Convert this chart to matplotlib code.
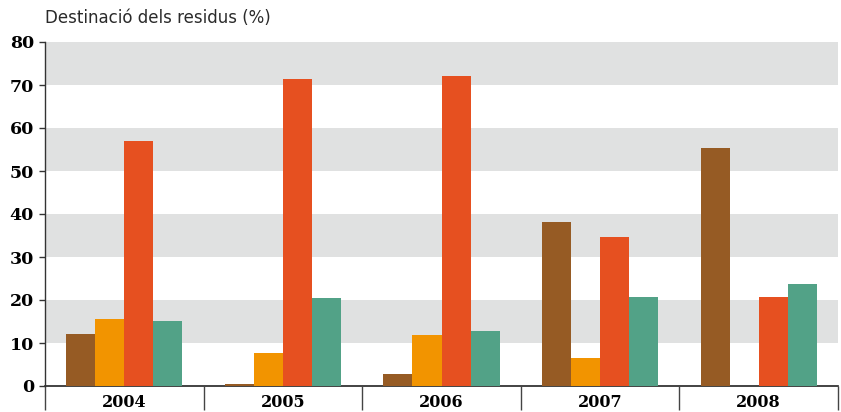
import numpy as np
import matplotlib.pyplot as plt

years = ["2004", "2005", "2006", "2007", "2008"]
serie_marro = [12.2, 0.35, 2.8, 38.1, 55.3]
serie_taronja = [15.6, 7.7, 11.9, 6.5, 0]
serie_vermell = [57.0, 71.3, 72.0, 34.7, 20.7]
serie_verd = [15.1, 20.5, 12.8, 20.7, 23.7]
yticks = [0, 10, 20, 30, 40, 50, 60, 70, 80]

colors = ["#965B24", "#F29400", "#E65020", "#52A287"]
band_color = "#E0E1E1"

fig = plt.figure(figsize=(8.41, 4.12), dpi=100)
ax = fig.add_axes([45 / 841, 1 - 386 / 412, (838 - 45) / 841, (386 - 42) / 412])

# grey bands every other 10 units
for lo in range(10, 80, 20):
    ax.axhspan(lo, lo + 10, color=band_color, lw=0, zorder=0)

x = np.arange(len(years))
w = 0.183
for i, (vals, c) in enumerate(zip([serie_marro, serie_taronja, serie_vermell, serie_verd], colors)):
    ax.bar(x + (i - 1.5) * w, vals, width=w, color=c, zorder=2, linewidth=0)

ax.set_xlim(-0.5, len(years) - 0.5)
ax.set_ylim(0, 80)

for s in ["top", "right"]:
    ax.spines[s].set_visible(False)
ax.spines["left"].set_color("#333333")
ax.spines["bottom"].set_color("#222222")
ax.spines["left"].set_linewidth(1.0)
ax.spines["bottom"].set_linewidth(1.2)
ax.spines["bottom"].set_zorder(1)

ax.set_yticks(yticks)
ax.set_yticklabels([str(t) for t in yticks], fontfamily="DejaVu Serif",
                   fontweight="bold", fontsize=12.5)
ax.tick_params(axis="y", length=4, width=1, color="#333333", pad=4)

ax.set_xticks(x)
ax.set_xticklabels(years, fontfamily="DejaVu Serif", fontweight="bold", fontsize=11.5)
ax.set_xticks(np.arange(-0.5, len(years), 1.0), minor=True)
ax.tick_params(axis="x", which="major", length=0, pad=6)
ax.tick_params(axis="x", which="minor", length=17, width=1, color="#444444")

fig.text(45 / 841, 1 - 18 / 412, "Destinació dels residus (%)", fontsize=12,
         color="#2a2a2a", va="center", ha="left", fontfamily="DejaVu Sans")

fig.savefig("out.png", dpi=100)
